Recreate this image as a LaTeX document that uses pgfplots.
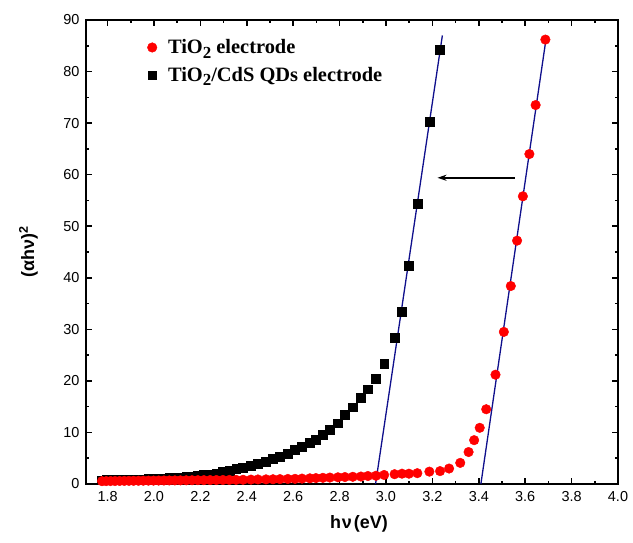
\documentclass[border=0pt]{standalone}
\usepackage{fontspec}
\setmainfont{Liberation Sans}
\newfontfamily\legfont{Liberation Serif}
\usepackage{pgfplots}
\pgfplotsset{compat=1.18}
\usetikzlibrary{arrows.meta}
\definecolor{fitblue}{RGB}{15,15,140}
\newcommand{\subtwo}{\raisebox{-0.45ex}{\fontsize{17}{17}\selectfont 2}}
\begin{document}
\begin{tikzpicture}
\useasboundingbox (-86bp,-59bp) rectangle (547bp,484bp);
\begin{axis}[
  scale only axis, width=532bp, height=464bp,
  xmin=1.707, xmax=4.0, ymin=0, ymax=90,
  xtick={1.8,2.0,2.2,2.4,2.6,2.8,3.0,3.2,3.4,3.6,3.8,4.0},
  ytick={0,10,20,30,40,50,60,70,80,90},
  minor x tick num=1, minor y tick num=1,
  tick align=inside,
  major tick length=6bp, minor tick length=3.5bp,
  axis line style={line width=2.2bp},
  every tick/.style={line width=1.5bp, black},
  tick label style={font=\fontsize{14.5}{16}\selectfont},
  /pgf/number format/assume math mode=true,
  x tick label style={/pgf/number format/.cd, fixed, fixed zerofill, precision=1},
  y tick label style={/pgf/number format/.cd, fixed, precision=0},
  xticklabel shift=4bp, yticklabel shift=3bp,
  xlabel={\bfseries h\kern0.04em ν\kern0.12em(eV)},
  ylabel={\bfseries (αhν)\textsuperscript{2}},
  label style={font=\fontsize{18}{20}\selectfont},
  xlabel style={at={(axis description cs:0.513,-0.086)}, anchor=center},
  ylabel style={at={(axis description cs:-0.108,0.5)}, anchor=center},
  reverse legend,
  legend style={at={(axis cs:1.958,87)}, anchor=north west, draw=none, fill=none,
    font=\legfont\bfseries\fontsize{20.5}{24}\selectfont, row sep=8pt, column sep=9bp,
    legend cell align=left},
]
% TiO2/CdS QDs electrode
\addplot[only marks, mark=square*, mark size=4.4bp, black] coordinates {
(1.776,0.75)(1.794,0.77)(1.813,0.79)(1.832,0.81)(1.852,0.83)(1.872,0.85)
(1.892,0.87)(1.912,0.89)(1.933,0.91)(1.954,0.94)(1.976,0.97)(1.998,1.00)
(2.020,1.05)(2.043,1.10)(2.066,1.15)(2.090,1.22)(2.114,1.30)(2.139,1.38)
(2.164,1.48)(2.189,1.60)(2.215,1.75)(2.242,1.90)(2.269,2.10)(2.297,2.35)
(2.325,2.60)(2.354,2.90)(2.384,3.20)(2.418,3.60)(2.448,4.00)(2.483,4.40)
(2.513,4.85)(2.543,5.30)(2.577,5.90)(2.608,6.60)(2.638,7.20)(2.672,8.00)
(2.698,8.60)(2.728,9.50)(2.758,10.5)(2.793,11.8)(2.823,13.4)(2.857,14.9)
(2.892,16.7)(2.922,18.4)(2.957,20.4)(2.992,23.3)(3.037,28.3)(3.069,33.4)
(3.099,42.3)(3.135,54.4)(3.187,70.3)(3.233,84.3)
};
\addlegendentry{TiO\subtwo/CdS QDs electrode}
% TiO2 electrode
\addplot[only marks, mark=*, mark size=4.8bp, red, mark options={draw=red, fill=red}] coordinates {
(1.776,0.55)(1.794,0.56)(1.813,0.57)(1.832,0.58)(1.852,0.59)(1.872,0.60)
(1.892,0.61)(1.912,0.62)(1.933,0.63)(1.954,0.64)(1.976,0.65)(1.998,0.66)
(2.020,0.67)(2.043,0.68)(2.066,0.69)(2.090,0.70)(2.114,0.71)(2.139,0.72)
(2.164,0.73)(2.189,0.74)(2.215,0.75)(2.242,0.76)(2.269,0.77)(2.297,0.78)
(2.325,0.79)(2.354,0.80)(2.384,0.82)(2.418,0.85)(2.448,0.88)(2.483,0.90)
(2.513,0.92)(2.543,0.95)(2.577,0.98)(2.608,1.00)(2.638,1.05)(2.672,1.10)
(2.698,1.15)(2.728,1.20)(2.758,1.25)(2.793,1.30)(2.823,1.35)(2.857,1.40)
(2.892,1.45)(2.922,1.55)(2.957,1.60)(2.992,1.75)(3.037,1.90)(3.069,2.00)
(3.099,2.00)(3.135,2.10)(3.187,2.40)(3.233,2.50)(3.272,3.00)(3.320,4.10)
(3.356,6.20)(3.380,8.50)(3.404,10.9)(3.432,14.5)(3.472,21.2)(3.508,29.5)
(3.538,38.4)(3.565,47.2)(3.590,55.8)(3.618,64.0)(3.645,73.5)(3.687,86.2)
};
\addlegendentry{TiO\subtwo\ electrode}
% linear fits
\addplot[fitblue, line width=1.3bp, forget plot] coordinates {(2.955,0)(3.243,87)};
\addplot[fitblue, line width=1.3bp, forget plot] coordinates {(3.409,0)(3.692,87)};
% arrow
\draw[line width=1.5bp, -{Stealth[length=9bp,width=6bp]}] (axis cs:3.556,59.4) -- (axis cs:3.222,59.4);
\end{axis}
\end{tikzpicture}
\end{document}
